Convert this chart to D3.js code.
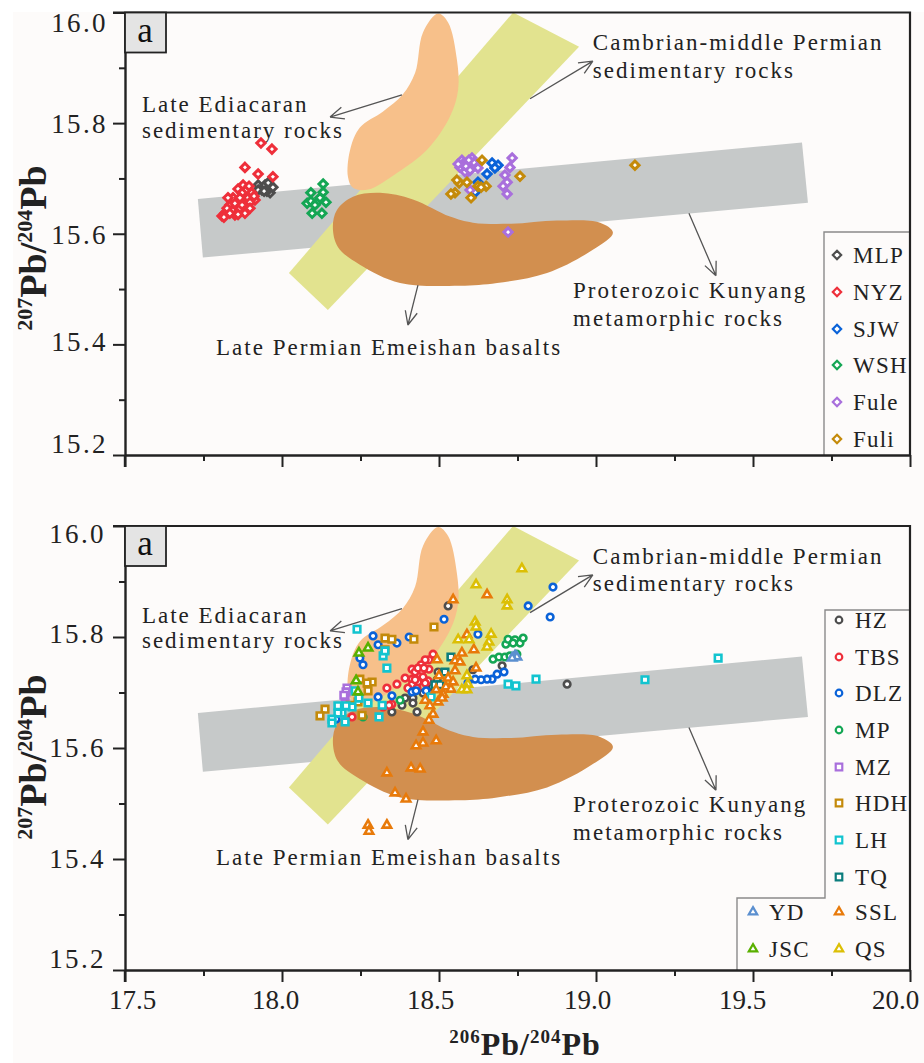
<!DOCTYPE html>
<html>
<head>
<meta charset="utf-8">
<script src="https://cdn.jsdelivr.net/npm/d3@7"></script>
<style>
  html, body { margin: 0; background: #fff; }
  svg { display: block; font-family: "Liberation Serif", serif; }
</style>
</head>
<body>
<div id="chart"></div>
<script>
// fields as [206Pb/204Pb, 207Pb/204Pb]
const kunyang = [[17.732, 15.663], [19.656, 15.765], [19.675, 15.656], [17.748, 15.557]]
const cambrian = [[18.736, 16.0], [18.946, 15.938], [18.146, 15.462], [18.022, 15.529]]
const ediacaran = [[18.497, 15.998], [18.449, 15.964], [18.424, 15.891], [18.385, 15.852], [18.322, 15.821], [18.248, 15.792], [18.217, 15.752], [18.21, 15.703], [18.226, 15.683], [18.274, 15.68], [18.366, 15.71], [18.462, 15.752], [18.535, 15.812], [18.561, 15.861], [18.557, 15.915], [18.529, 15.982]]
const emeishan = [[18.162, 15.613], [18.175, 15.643], [18.226, 15.667], [18.312, 15.674], [18.417, 15.662], [18.535, 15.631], [18.608, 15.62], [18.73, 15.618], [18.876, 15.624], [19.013, 15.62], [19.054, 15.602], [18.99, 15.571], [18.844, 15.529], [18.685, 15.511], [18.567, 15.506], [18.376, 15.511], [18.248, 15.544], [18.178, 15.576]]

// upper panel
const mlp = [[17.924, 15.688], [17.936, 15.679], [17.946, 15.688], [17.962, 15.684], [17.962, 15.674], [17.971, 15.684], [17.924, 15.679], [17.952, 15.677], [17.943, 15.677], [17.956, 15.692]]
const nyz = [[17.933, 15.764], [17.968, 15.753], [17.882, 15.72], [17.924, 15.708], [17.971, 15.703], [17.876, 15.688], [17.895, 15.686], [17.86, 15.681], [17.844, 15.665], [17.828, 15.665], [17.904, 15.674], [17.914, 15.661], [17.882, 15.654], [17.857, 15.65], [17.828, 15.639], [17.809, 15.632], [17.85, 15.634], [17.882, 15.637], [17.818, 15.637], [17.834, 15.652], [17.873, 15.674], [17.892, 15.665], [17.898, 15.657], [17.841, 15.643], [17.866, 15.646], [17.825, 15.646], [17.85, 15.655], [17.866, 15.665], [17.873, 15.652], [17.834, 15.637], [17.815, 15.63], [17.86, 15.635], [17.898, 15.646], [17.911, 15.668]]
const sjw = [[18.669, 15.728], [18.688, 15.724], [18.678, 15.719], [18.653, 15.708], [18.624, 15.693], [18.615, 15.675]]
const wsh = [[18.131, 15.69], [18.131, 15.675], [18.092, 15.674], [18.08, 15.655], [18.092, 15.659], [18.112, 15.657], [18.14, 15.657], [18.121, 15.665], [18.096, 15.637], [18.127, 15.637], [18.105, 15.652]]
const fule = [[18.573, 15.733], [18.605, 15.737], [18.733, 15.737], [18.726, 15.72], [18.71, 15.706], [18.717, 15.693], [18.704, 15.686], [18.717, 15.672], [18.72, 15.603], [18.599, 15.679], [18.592, 15.712], [18.567, 15.72], [18.615, 15.724], [18.583, 15.712], [18.605, 15.72], [18.624, 15.719], [18.576, 15.726], [18.589, 15.728], [18.586, 15.722], [18.599, 15.715], [18.611, 15.729], [18.561, 15.726], [18.595, 15.733]]
const fuli = [[18.637, 15.733], [18.758, 15.704], [19.124, 15.724], [18.564, 15.692], [18.589, 15.693], [18.624, 15.686], [18.65, 15.686], [18.557, 15.697], [18.551, 15.674], [18.538, 15.672], [18.602, 15.665], [18.634, 15.684]]

// lower panel
const hz = [[18.529, 15.856], [18.701, 15.748], [18.908, 15.715], [18.608, 15.741], [18.382, 15.677], [18.392, 15.69], [18.417, 15.69], [18.417, 15.681], [18.43, 15.665], [18.35, 15.665], [18.449, 15.699], [18.478, 15.71], [18.497, 15.737], [18.494, 15.723]]
const tbs = [[18.481, 15.769], [18.468, 15.759], [18.443, 15.75], [18.414, 15.742], [18.468, 15.742], [18.392, 15.726], [18.414, 15.724], [18.44, 15.732], [18.465, 15.721], [18.366, 15.715], [18.334, 15.708], [18.35, 15.679], [18.322, 15.674], [18.433, 15.719], [18.414, 15.714], [18.446, 15.739], [18.401, 15.708], [18.43, 15.708], [18.449, 15.728], [18.223, 15.656], [18.341, 15.677], [18.424, 15.737], [18.456, 15.759], [18.433, 15.744], [18.452, 15.744], [18.424, 15.723], [18.456, 15.717]]
const dlz = [[18.863, 15.89], [18.784, 15.856], [18.854, 15.836], [18.516, 15.832], [18.624, 15.805], [18.405, 15.8], [18.366, 15.789], [18.306, 15.786], [18.29, 15.802], [18.258, 15.75], [18.306, 15.692], [18.35, 15.694], [18.414, 15.701], [18.427, 15.703], [18.459, 15.703], [18.707, 15.737], [18.685, 15.733], [18.669, 15.724], [18.653, 15.724], [18.634, 15.723], [18.615, 15.724], [18.592, 15.717], [18.248, 15.762], [18.172, 15.652]]
const mp = [[18.672, 15.76], [18.691, 15.764], [18.71, 15.764], [18.726, 15.766], [18.748, 15.769], [18.713, 15.787], [18.72, 15.796], [18.742, 15.795], [18.758, 15.789], [18.768, 15.798], [18.736, 15.789], [18.376, 15.686], [18.258, 15.656]]
const mz = [[18.207, 15.708], [18.201, 15.692], [18.204, 15.701], [18.197, 15.695]]
const hdh = [[18.137, 15.67], [18.121, 15.658], [18.328, 15.798], [18.248, 15.724], [18.287, 15.719], [18.271, 15.717], [18.274, 15.703], [18.242, 15.683], [18.255, 15.659], [18.217, 15.677], [18.35, 15.796], [18.484, 15.818], [18.42, 15.796], [18.328, 15.777]]
const lh = [[18.239, 15.814], [18.322, 15.766], [18.328, 15.775], [18.334, 15.744], [18.233, 15.703], [18.245, 15.69], [18.274, 15.681], [18.319, 15.677], [18.309, 15.656], [18.201, 15.647], [18.223, 15.674], [18.204, 15.676], [18.178, 15.676], [18.191, 15.663], [18.178, 15.663], [18.159, 15.652], [18.159, 15.645], [18.72, 15.715], [18.745, 15.712], [18.809, 15.724], [18.475, 15.692], [19.389, 15.762], [19.156, 15.723]]
const tq = [[18.538, 15.764], [18.519, 15.737], [18.487, 15.714], [18.503, 15.714]]
const yd = [[18.742, 15.766], [18.748, 15.764], [18.733, 15.762]]
const jsc = [[18.274, 15.78], [18.245, 15.771], [18.236, 15.721], [18.242, 15.701]]
const ssl = [[18.545, 15.867], [18.653, 15.876], [18.589, 15.804], [18.611, 15.777], [18.573, 15.771], [18.551, 15.757], [18.567, 15.755], [18.618, 15.744], [18.551, 15.739], [18.5, 15.73], [18.529, 15.726], [18.545, 15.719], [18.491, 15.705], [18.522, 15.71], [18.538, 15.706], [18.513, 15.697], [18.456, 15.686], [18.497, 15.683], [18.471, 15.676], [18.481, 15.661], [18.468, 15.65], [18.51, 15.69], [18.494, 15.759], [18.449, 15.629], [18.491, 15.613], [18.449, 15.609], [18.427, 15.604], [18.411, 15.564], [18.44, 15.562], [18.334, 15.555], [18.36, 15.519], [18.395, 15.508], [18.274, 15.461], [18.334, 15.461], [18.277, 15.45]]
const qs = [[18.764, 15.923], [18.618, 15.894], [18.717, 15.867], [18.717, 15.856], [18.615, 15.827], [18.618, 15.818], [18.666, 15.805], [18.659, 15.791], [18.653, 15.782], [18.561, 15.795], [18.596, 15.795], [18.589, 15.73], [18.592, 15.715], [18.573, 15.705], [18.589, 15.705]]

const xTicks = [17.5, 17.75, 18, 18.25, 18.5, 18.75, 19, 19.25, 19.5, 19.75, 20]
const yTicks = [15.2, 15.3, 15.4, 15.5, 15.6, 15.7, 15.8, 15.9, 16]

// [label, x, y] for the field names, [x1, y1, x2, y2] for their arrows
const notes = [
  ['Late Ediacaran', 17.554, 15.82], ['sedimentary rocks', 17.554, 15.773],
  ['Cambrian-middle Permian', 18.99, 15.932], ['sedimentary rocks', 18.99, 15.882],
  ['Proterozoic Kunyang', 18.927, 15.484], ['metamorphic rocks', 18.927, 15.433],
  ['Late Permian Emeishan basalts', 17.79, 15.377]
]
const arrows = [
  [18.382, 15.851, 18.153, 15.811],
  [18.79, 15.844, 18.99, 15.912],
  [19.296, 15.637, 19.382, 15.524],
  [18.433, 15.507, 18.401, 15.435]
]

const diamond = d3.symbol(d3.symbolDiamond2, 44)()
const circle = d3.symbol(d3.symbolCircle, 34)()
const square = d3.symbol(d3.symbolSquare, 43)()
const triangle = d3.symbol(d3.symbolTriangle, 31)()

const upperSeries = [
  { name: 'MLP', data: mlp, color: '#4d4d4d', mark: diamond, lx: 837, ly: 255 },
  { name: 'NYZ', data: nyz, color: '#ee2f3a', mark: diamond, lx: 837, ly: 292 },
  { name: 'SJW', data: sjw, color: '#0a62d8', mark: diamond, lx: 837, ly: 329 },
  { name: 'WSH', data: wsh, color: '#14a654', mark: diamond, lx: 837, ly: 365 },
  { name: 'Fule', data: fule, color: '#a96fdc', mark: diamond, lx: 837, ly: 402 },
  { name: 'Fuli', data: fuli, color: '#c48a0a', mark: diamond, lx: 837, ly: 439 }
]
const lowerSeries = [
  { name: 'HZ', data: hz, color: '#4d4d4d', mark: circle, lx: 839, ly: 620 },
  { name: 'TBS', data: tbs, color: '#ee2f3a', mark: circle, lx: 839, ly: 657 },
  { name: 'DLZ', data: dlz, color: '#0a62d8', mark: circle, lx: 839, ly: 693 },
  { name: 'MP', data: mp, color: '#14a654', mark: circle, lx: 839, ly: 730 },
  { name: 'MZ', data: mz, color: '#a96fdc', mark: square, lx: 839, ly: 767 },
  { name: 'HDH', data: hdh, color: '#c48a0a', mark: square, lx: 839, ly: 803 },
  { name: 'LH', data: lh, color: '#12c4cf', mark: square, lx: 839, ly: 840 },
  { name: 'TQ', data: tq, color: '#0b7d7d', mark: square, lx: 839, ly: 877 },
  { name: 'YD', data: yd, color: '#5b8fcf', mark: triangle, lx: 753, ly: 912 },
  { name: 'JSC', data: jsc, color: '#5ab000', mark: triangle, lx: 753, ly: 949 },
  { name: 'SSL', data: ssl, color: '#e87a0a', mark: triangle, lx: 839, ly: 912 },
  { name: 'QS', data: qs, color: '#dcbf05', mark: triangle, lx: 839, ly: 949 }
]

const ink = '#222'
const svg = d3.select('#chart').append('svg')
  .attr('width', 924)
  .attr('height', 1063)

svg.append('rect')
  .attr('x', 13).attr('y', 12)
  .attr('width', 911).attr('height', 1051)
  .attr('fill', '#fdfbfa')

const xScale = d3.scaleLinear().domain([17.5, 20]).range([125, 910])
const closedBlob = (yScale) => d3.line()
  .x(d => xScale(d[0]))
  .y(d => yScale(d[1]))
  .curve(d3.curveCatmullRomClosed.alpha(0.5))
const polygon = (yScale) => d3.line()
  .x(d => xScale(d[0]))
  .y(d => yScale(d[1]))
  .curve(d3.curveLinearClosed)

function drawPanel({ range, series, legendPath, xLabels, labelRight, labelShift, noteShift, titleY }) {
  const yScale = d3.scaleLinear().domain([15.2, 16]).range(range)
  const g = svg.append('g')

  // fields, back to front
  g.append('path').attr('d', polygon(yScale)(kunyang)).attr('fill', '#c6c9c9')
  g.append('path').attr('d', polygon(yScale)(cambrian)).attr('fill', '#e2e38f')
  g.append('path').attr('d', closedBlob(yScale)(ediacaran)).attr('fill', '#f7c08a')
  g.append('path').attr('d', closedBlob(yScale)(emeishan)).attr('fill', '#d28f4f')

  // field names and arrows
  g.selectAll('.note')
    .data(notes)
    .join('text')
    .attr('class', 'note')
    .attr('x', d => xScale(d[1]))
    .attr('y', (d, i) => yScale(d[2]) + noteShift[i])
    .attr('font-size', 23)
    .attr('letter-spacing', 2)
    .attr('fill', '#222')
    .text(d => d[0])

  arrows.forEach(a => {
    const x1 = xScale(a[0]), y1 = yScale(a[1]), x2 = xScale(a[2]), y2 = yScale(a[3])
    const angle = Math.atan2(y1 - y2, x1 - x2)
    const barb = s => `M${x2 + 15 * Math.cos(angle + s)},${y2 + 15 * Math.sin(angle + s)}L${x2},${y2}`
    g.append('path')
      .attr('d', `M${x1},${y1}L${x2},${y2}` + barb(0.42) + barb(-0.42))
      .attr('fill', 'none')
      .attr('stroke', '#555')
      .attr('stroke-width', 1.3)
  })

  // samples
  series.forEach(s => {
    g.append('g').selectAll('path')
      .data(s.data)
      .join('path')
      .attr('d', s.mark)
      .attr('transform', d => `translate(${xScale(d[0])},${yScale(d[1])})`)
      .attr('fill', '#fff')
      .attr('stroke', s.color)
      .attr('stroke-width', s.mark == diamond ? 3 : 2.6)
  })

  // legend
  g.append('path')
    .attr('d', legendPath)
    .attr('fill', 'none')
    .attr('stroke', '#8a8a8a')
    .attr('stroke-width', 1.4)
  const legendRow = g.selectAll('.legend')
    .data(series)
    .join('g')
    .attr('class', 'legend')
    .attr('transform', d => `translate(${d.lx},${d.ly})`)
  legendRow.append('path')
    .attr('d', d => d.mark)
    .attr('fill', '#fff')
    .attr('stroke', d => d.color)
    .attr('stroke-width', 2.2)
  legendRow.append('text')
    .attr('x', 16)
    .attr('y', 8)
    .attr('font-size', 23)
    .attr('letter-spacing', 1.2)
    .attr('fill', '#222')
    .text(d => d.name)

  // axes
  const yAxis = d3.axisLeft(yScale)
    .tickValues(yTicks)
    .tickSize(12)
    .tickSizeOuter(0)
    .tickFormat(d => Math.round(d * 10) % 2 == 0 ? d3.format('.1f')(d) : '')
  const yAxisG = g.append('g').attr('transform', 'translate(125,0)').call(yAxis)

  const xAxis = d3.axisBottom(xScale)
    .tickValues(xTicks)
    .tickSize(12)
    .tickSizeOuter(0)
    .tickFormat(d => xLabels && d * 2 == Math.round(d * 2) ? d3.format('.1f')(d) : '')
  const xAxisG = g.append('g').attr('transform', `translate(0,${range[0]})`).call(xAxis)

  g.selectAll('.domain').attr('stroke', ink).attr('stroke-width', 2.4)
  g.selectAll('.tick line').attr('stroke', ink).attr('stroke-width', 2)

  yAxisG.selectAll('.tick line').filter(d => Math.round(d * 10) % 2 != 0).attr('x2', -6)
  xAxisG.selectAll('.tick line').filter(d => d * 2 != Math.round(d * 2)).attr('y2', 6)

  yAxisG.selectAll('text')
    .attr('font-family', 'Liberation Serif')
    .attr('font-size', 27)
    .attr('letter-spacing', 2.4)
    .attr('fill', ink)
    .attr('x', labelRight - 125)
    .attr('dy', d => labelShift[Math.round((16 - d) * 5)] + 9)

  xAxisG.selectAll('text')
    .attr('font-family', 'Liberation Serif')
    .attr('font-size', 27)
    .attr('fill', ink)
    .attr('y', 20)
    .attr('dy', '0.71em')
    .attr('dx', d => xLabelShift[Math.round((d - 17.5) * 2)])

  // top and right edges of the frame
  g.append('path')
    .attr('d', `M113,${range[1]}H${xScale(20)}V${range[0]}`)
    .attr('fill', 'none')
    .attr('stroke', ink)
    .attr('stroke-width', 2.2)
  g.append('path')
    .attr('d', `M125,${range[0]}v12`)
    .attr('stroke', ink)
    .attr('stroke-width', 2.4)

  // panel tag
  g.append('rect')
    .attr('x', 125).attr('y', range[1])
    .attr('width', 41).attr('height', 40)
    .attr('fill', '#e4e4e4')
    .attr('stroke', ink)
    .attr('stroke-width', 1.8)
  g.append('text')
    .attr('x', 145)
    .attr('y', range[1] + 29)
    .attr('text-anchor', 'middle')
    .attr('font-size', 35)
    .attr('fill', '#111')
    .text('a')

  // y title
  pbTitle(g.append('text')
    .attr('transform', `translate(46,${titleY}) rotate(-90)`)
    .attr('text-anchor', 'middle'), '207', 38, 22)
}

function pbTitle(text, mass, size, supSize) {
  const masses = [mass, '204']
  text.attr('font-weight', 'bold').attr('fill', ink)
  masses.forEach((m, i) => {
    text.append('tspan').attr('font-size', supSize).attr('dy', -size * 0.36).text(m)
    text.append('tspan').attr('font-size', size).attr('dy', size * 0.36).text(i == 0 ? 'Pb/' : 'Pb')
  })
}

const xLabelShift = [7, -7, -9, -9, -11, -15]

drawPanel({
  range: [455, 12.5],
  series: upperSeries,
  legendPath: 'M824,455V232H911',
  xLabels: false,
  labelRight: 108,
  labelShift: [10, 0, 1, -3, -12],
  noteShift: [0, 0, 0, 0, 0, 0, -2],
  titleY: 248
})

drawPanel({
  range: [970, 526],
  series: lowerSeries,
  legendPath: 'M737,970V898H825V610H911',
  xLabels: true,
  labelRight: 106,
  labelShift: [7, -4, -1, -1, -12],
  noteShift: [-3, -4, 0, 0, 0, -1, -7],
  titleY: 757
})

pbTitle(svg.append('text')
  .attr('x', 525)
  .attr('y', 1055)
  .attr('letter-spacing', 1)
  .attr('text-anchor', 'middle'), '206', 32, 19)
</script>
</body>
</html>
